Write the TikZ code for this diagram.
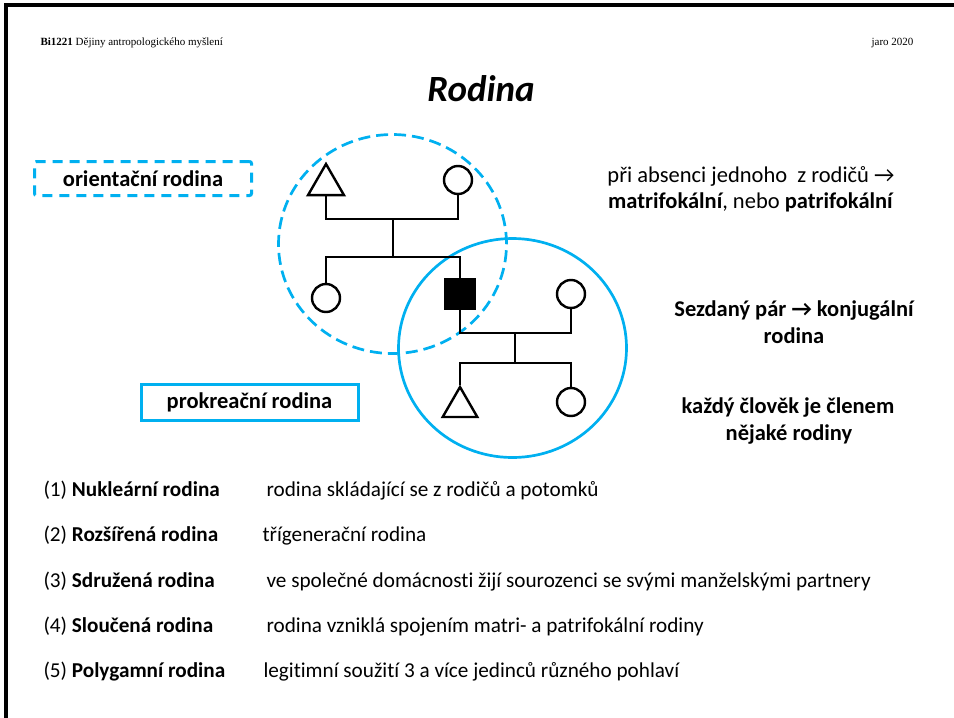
\documentclass[tikz,border=0pt]{standalone}
\usepackage{fontspec}
\setmainfont{Carlito}[Ligatures=NoCommon]
\newfontfamily\hdrfont{Liberation Serif}
\usetikzlibrary{shapes.geometric}
\definecolor{sky}{HTML}{00B0F0}
\begin{document}
\begin{tikzpicture}[x=1pt,y=-1pt,
  ped/.style={line width=2.4pt,draw=black},
  fem/.style={circle,draw=black,line width=2.4pt,minimum size=28pt,inner sep=0pt},
  mal/.style={regular polygon,regular polygon sides=3,draw=black,line width=2.4pt,inner sep=0pt},
  famcirc/.style={ellipse,draw=sky,line width=2.7pt,minimum width=228pt,minimum height=219pt,inner sep=0pt},
  body/.style={font=\fontsize{21.2pt}{26pt}\selectfont},
  big/.style={font=\fontsize{22.5pt}{27pt}\selectfont},
  bigb/.style={font=\fontsize{22.5pt}{27pt}\selectfont\bfseries},
  hdr/.style={font=\hdrfont\fontsize{11pt}{13pt}\selectfont},
  lbl/.style={body,anchor=base west},
  ctr/.style={big,anchor=base},
  ctrb/.style={bigb,anchor=base},
  boxlbl/.style={bigb,draw=sky,line width=3pt,minimum width=217pt,inner sep=0pt}
]
\useasboundingbox (0,0) rectangle (954,718);
\fill[white] (0,0) rectangle (954,718);
% page frame
\draw[line width=4pt] (6,718) -- (6,4.5) -- (954,4.5);
% header
\node[hdr,anchor=base west] (hdl) at (37,45) {\textbf{Bi1221} Dějiny antropologického myšlení};
\node[hdr,anchor=base east] (hdr) at (917,45) {jaro 2020};
% title
\node[anchor=base,font=\fontsize{37pt}{42pt}\selectfont\bfseries\itshape] (title) at (481,101) {Rodina};
% family circles
\node[famcirc,dash pattern=on 12pt off 6pt] (orc) at (392.5,244) {};
\node[famcirc] (prc) at (512.5,348) {};
% pedigree
\node[mal,minimum size=41.4pt] (fa) at (326,184.7) {};
\node[fem] (mo) at (458,180) {};
\node[fem] (sis) at (326,298) {};
\node[draw=black,fill=black,line width=2.4pt,minimum size=29.5pt,inner sep=0pt] (ego) at (460,294) {};
\node[fem] (sp) at (571,294) {};
\node[mal,minimum size=40pt] (son) at (460,407) {};
\node[fem] (dau) at (571,402) {};
\coordinate (p1) at (393,219);
\coordinate (p2) at (393,257);
\coordinate (q1) at (515,333);
\coordinate (q2) at (515,363);
\draw[ped] (fa.side 2) -- (fa.side 2 |- p1) -- (mo.south |- p1) -- (mo.south);
\draw[ped] (p1) -- (p2);
\draw[ped] (sis.north) -- (sis.north |- p2) -- (ego.north |- p2) -- (ego.north);
\draw[ped] (ego.south) -- (ego.south |- q1) -- (sp.south |- q1) -- (sp.south);
\draw[ped] (q1) -- (q2);
\draw[ped] (son.corner 1) -- (son.corner 1 |- q2) -- (dau.north |- q2) -- (dau.north);
% boxes
\node[boxlbl,dash pattern=on 10pt off 7pt,rounded corners=2pt,minimum height=34pt] (ori) at (143,178.5) {orientační rodina};
\node[boxlbl,minimum height=36pt] (pro) at (249.5,402.5) {prokreační rodina};
% right texts
\node[ctr] (r1) at (751,182) {při absenci jednoho \ z rodičů →};
\node[ctr] (r2) at (751,208) {\textbf{matrifokální}, nebo \textbf{patrifokální}};
\node[ctrb] (r3) at (794,316) {Sezdaný pár → konjugální};
\node[ctrb] (r4) at (794,343) {rodina};
\node[ctrb] (r5) at (788,413) {každý člověk je členem};
\node[ctrb] (r6) at (789,440) {nějaké rodiny};
% list
\node[lbl] (l1) at (40,496) {(1) \textbf{Nukleární rodina}};
\node[lbl] (d1) at (263,496) {rodina skládající se z rodičů a potomků};
\node[lbl] (l2) at (40,541.5) {(2) \textbf{Rozšířená rodina}};
\node[lbl] (d2) at (259,541.5) {třígenerační rodina};
\node[lbl] (l3) at (40,587) {(3) \textbf{Sdružená rodina}};
\node[lbl] (d3) at (263,587) {ve společné domácnosti žijí sourozenci se svými manželskými partnery};
\node[lbl] (l4) at (40,632) {(4) \textbf{Sloučená rodina}};
\node[lbl] (d4) at (263,632) {rodina vzniklá spojením matri- a patrifokální rodiny};
\node[lbl] (l5) at (40,677) {(5) \textbf{Polygamní rodina}};
\node[lbl] (d5) at (260,677) {legitimní soužití 3 a více jedinců různého pohlaví};
\end{tikzpicture}
\end{document}
